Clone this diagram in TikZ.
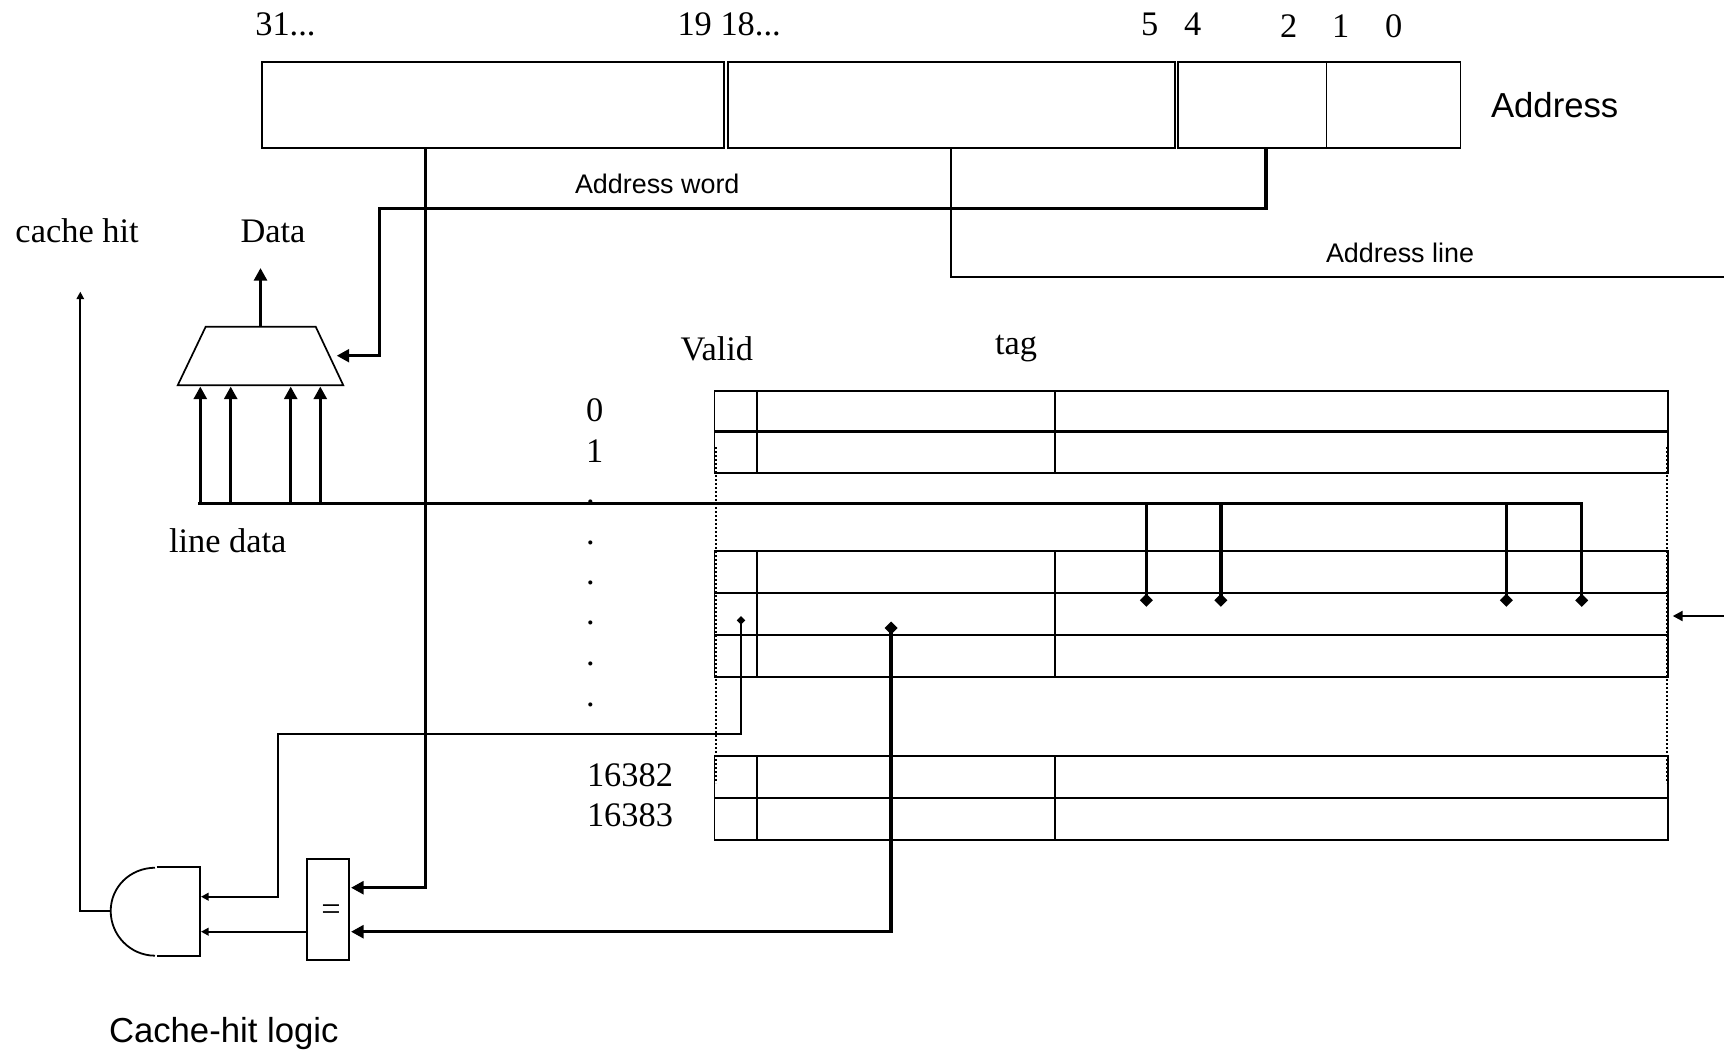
\documentclass[tikz,border=0pt]{standalone}
\usepackage{fontspec}
\setmainfont{Liberation Serif}
\newfontfamily\arialfont{Liberation Sans}
\usetikzlibrary{arrows.meta,shapes.geometric}
\tikzset{
  box/.style={draw,line width=1.9pt,rectangle,inner sep=0pt,outer sep=0pt,anchor=north west},
  serif/.style={inner sep=0pt,outer sep=0pt,anchor=base west,font=\fontsize{34.4}{40}\selectfont},
  sansbig/.style={inner sep=0pt,outer sep=0pt,anchor=base west,font=\arialfont\fontsize{34.7}{40}\selectfont},
  sanssmall/.style={inner sep=0pt,outer sep=0pt,anchor=base west,font=\arialfont\fontsize{26.9}{32}\selectfont},
  thickw/.style={line width=3.5pt,-{Triangle[length=12.5pt,width=12.7pt]}},
  thickp/.style={line width=3.5pt},
  thinar/.style={line width=1.7pt,-{Triangle[length=7.5pt,width=7.5pt]}},
  midar/.style={line width=2.2pt,-{Triangle[length=10pt,width=10pt]}},
  bigdia/.style={diamond,fill=black,inner sep=0pt,outer sep=0pt,minimum width=13pt,minimum height=13pt},
  smalldia/.style={diamond,fill=black,inner sep=0pt,outer sep=0pt,minimum width=8.5pt,minimum height=8.5pt},
  dotline/.style={line width=1.8pt,dash pattern=on 2pt off 2pt},
}
\begin{document}
\begin{tikzpicture}[x=1pt,y=-1pt]
\useasboundingbox (0,0) rectangle (1724,1050);
% address register
\node[box,minimum width=462.4pt,minimum height=86pt] (af1) at (262,62) {};
\node[box,minimum width=447.2pt,minimum height=86pt] (af2) at (727.6,62) {};
\node[box,minimum width=148.5pt,minimum height=86pt] (af3) at (1178,62) {};
\node[box,minimum width=134pt,minimum height=86pt] (af4) at (1326.5,62) {};
% bit numbers
\node[serif] (b31) at (255.3,35) {31...};
\node[serif] (b19) at (677.5,35) {19 18...};
\node[serif] (b5) at (1141,35) {5};
\node[serif] (b4) at (1184,35) {4};
\node[serif] (b2) at (1280,37) {2};
\node[serif] (b1) at (1332,37) {1};
\node[serif] (b0) at (1385,37) {0};
\node[sansbig] (addr) at (1491,117) {Address};
\node[sanssmall] (aw) at (575,193) {Address word};
\node[sanssmall] (al) at (1326,262) {Address line};
\node[serif] (ch) at (15.5,242.5) {cache hit};
\node[serif] (data) at (240.5,242.5) {Data};
\node[serif] (ld) at (169,552) {line data};
\node[serif] (valid) at (680.5,360) {Valid};
\node[serif] (tag) at (995,354) {tag};
\node[serif] (n0) at (586,421) {0};
\node[serif] (n1) at (586,462) {1};
\node[serif] (n16382) at (587,786) {16382};
\node[serif] (n16383) at (587,826) {16383};
\node[serif] (d1) at (586,503.5) {.};
\node[serif] (d2) at (586,544) {.};
\node[serif] (d3) at (586,584) {.};
\node[serif] (d4) at (586,624.5) {.};
\node[serif] (d5) at (586,665) {.};
\node[serif] (d6) at (586,706) {.};
\node[sansbig] (chl) at (109,1042) {Cache-hit logic};
% cache rows
\foreach \n/\t/\h in {a/390.7/41,b/431.7/41.3,c/551.3/42,d/593.3/42,e/635.3/42,f/756/42,g/798/42}{
  \node[box,minimum width=42.8pt,minimum height=\h pt] (v\n) at (714.5,\t) {};
  \node[box,minimum width=298pt,minimum height=\h pt] (t\n) at (757.3,\t) {};
  \node[box,minimum width=612.8pt,minimum height=\h pt] (l\n) at (1055.2,\t) {};
}
\draw[line width=3pt] (va.south west) -- (la.south east);
% dotted side lines
\coordinate (dl1) at (715.8,447);
\coordinate (dl2) at (715.8,783);
\coordinate (dr1) at (1667.2,447);
\coordinate (dr2) at (1667.2,783);
\draw[dotline] (dl1) -- (dl2);
\draw[dotline] (dr1) -- (dr2);
% mux
\coordinate (muxA) at (205.7,326.7);
\coordinate (muxB) at (315.7,326.7);
\coordinate (muxC) at (343.3,385.3);
\coordinate (muxD) at (177.7,385.3);
\draw[line width=1.7pt] (muxA) -- (muxB) -- (muxC) -- (muxD) -- cycle;
\coordinate (muxtop) at (260.5,326.7);
\coordinate (muxout) at (260.5,268);
\draw[thickw] (muxtop) -- (muxout);
% address word
\coordinate (awt) at (1266,148);
\coordinate (awc) at (1266,208.3);
\coordinate (awl) at (379.7,208.3);
\coordinate (awb) at (379.7,355.7);
\coordinate (muxin) at (336.7,355.7);
\draw[thickw,line join=miter] (awt) -- (awc) -- (awl) -- (awb) -- (muxin);
% address line
\coordinate (alt) at (951,148);
\coordinate (alc) at (951,276.7);
\coordinate (alr) at (1724,276.7);
\draw[line width=2.4pt] (alt) -- (alc) -- (alr);
\coordinate (ain) at (1724,616);
\coordinate (ainh) at (1672.7,616);
\draw[midar] (ain) -- (ainh);
% tag compare wire
\node[box,minimum width=42.6pt,minimum height=101pt] (eq) at (306.7,859) {};
\node[inner sep=0pt,font=\fontsize{34.4}{40}\selectfont] (eqs) at (331,913) {=};
\coordinate (tt) at (425.7,148);
\coordinate (tb) at (425.7,887.7);
\coordinate (ti) at (351,887.7);
\draw[thickw] (tt) -- (tb) -- (ti);
\node[bigdia] (dtag) at (891,628) {};
\coordinate (tgb) at (891,931.7);
\coordinate (tgi) at (351,931.7);
\draw[thickw] (dtag.center) -- (tgb) -- (tgi);
% line-data bus
\coordinate (bL) at (198.3,503.7);
\coordinate (bR) at (1583.4,503.7);
\draw[thickp] (bL) -- (bR);
\foreach \x/\nm in {200.3/m1,230.7/m2,290.7/m3,320.3/m4}{
  \coordinate (\nm b) at (\x,503.7);
  \coordinate (\nm t) at (\x,386.5);
  \draw[thickw] (\nm b) -- (\nm t);
}
\foreach \x/\nm in {1146.3/s1,1220.8/s2,1506.3/s3,1581.7/s4}{
  \coordinate (\nm b) at (\x,503.7);
  \node[bigdia] (\nm d) at (\x,600.3) {};
  \draw[thickp] (\nm b) -- (\nm d.center);
}
% valid wire to AND gate
\node[smalldia] (dval) at (741,620.3) {};
\coordinate (vb) at (741,734.3);
\coordinate (vl) at (277.7,734.3);
\coordinate (vd) at (277.7,896.7);
\coordinate (andA) at (201,896.7);
\draw[thinar,line width=2pt] (dval.center) -- (vb) -- (vl) -- (vd) -- (andA);
\coordinate (andB) at (201,931.7);
\draw[thinar,line width=2pt] (eq.west |- andB) -- (andB);
% AND gate
\coordinate (gt1) at (156.7,866.7);
\coordinate (gt2) at (200.3,866.7);
\coordinate (gb1) at (156.7,955.7);
\coordinate (gb2) at (200.3,955.7);
\coordinate (ga1) at (155,867.7);
\coordinate (ga2) at (110.7,911);
\coordinate (ga3) at (155,955.7);
\draw[line width=1.8pt] (gt1) -- (gt2) -- (gb2) -- (gb1);
\draw[line width=1.8pt] (ga1) .. controls (130,868) and (110.7,887) .. (ga2) .. controls (110.7,935) and (130,955.5) .. (ga3);
\coordinate (hc) at (80.3,911);
\coordinate (ht) at (80.3,291.7);
\draw[thinar] (ga2) -- (hc) -- (ht);
\end{tikzpicture}
\end{document}
